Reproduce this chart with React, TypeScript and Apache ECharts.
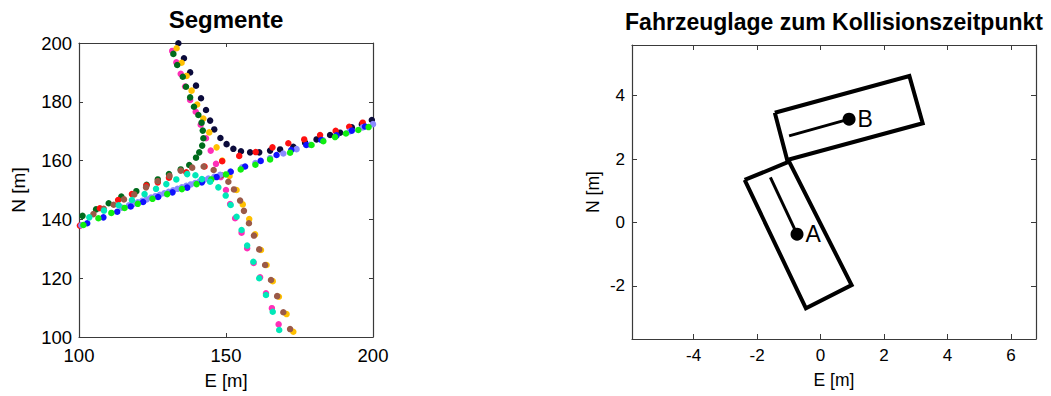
import React, { useEffect, useRef } from "react";
import * as echarts from "echarts";

// ---------- Left chart: "Segmente" (E [m] vs N [m]) ----------
const segNavy = [
  [133.8, 199.9], [135.7, 194.8], [137.8, 190.0], [139.8, 185.5], [141.5, 181.2], [143.2, 177.2],
  [144.6, 173.6], [146.0, 170.6], [148.1, 167.7], [150.2, 165.6], [152.5, 164.0], [155.1, 163.2],
  [158.2, 162.8], [161.3, 162.8], [165.0, 163.4], [168.4, 163.8], [172.9, 164.7], [176.9, 166.1],
  [180.8, 167.2], [185.4, 168.7], [188.8, 169.5], [192.8, 171.3], [196.2, 172.4], [199.6, 173.8],
];
const segPink = [
  [131.7, 197.3], [133.1, 193.4], [134.6, 189.5], [136.1, 185.2], [137.8, 180.6], [139.7, 176.6],
  [141.4, 172.2], [143.2, 167.6], [144.8, 163.4], [146.6, 158.9], [148.2, 154.4], [150.0, 150.0],
  [151.4, 145.2], [153.1, 140.4], [155.3, 135.5], [157.2, 130.2], [159.4, 125.2], [161.6, 120.3],
  [163.6, 114.9], [165.6, 109.8], [167.9, 104.3],
];
const segYellow = [
  [133.2, 198.2], [134.9, 193.3], [136.6, 188.8], [138.3, 183.8], [140.2, 179.1], [142.3, 174.3],
  [144.3, 169.6], [146.8, 164.5], [148.7, 160.0], [151.2, 154.8], [153.6, 150.0], [155.7, 145.1],
  [157.9, 140.1], [159.9, 134.9], [161.9, 129.6], [163.8, 124.5], [165.9, 119.0], [168.0, 113.7],
  [170.6, 107.8], [172.9, 101.8],
];
const segDarkGreen = [
  [132.1, 196.3], [133.4, 192.5], [135.3, 188.5], [136.4, 185.1], [137.8, 181.5], [139.1, 178.3],
  [140.6, 175.5], [141.7, 172.9], [142.1, 170.2], [142.3, 167.6], [141.9, 165.1], [140.9, 162.8],
  [139.8, 161.0], [137.5, 158.5], [134.6, 157.0], [130.6, 155.4], [126.8, 153.6], [123.0, 151.8],
  [119.5, 149.6], [114.4, 147.8], [110.1, 145.5], [105.8, 143.4], [101.2, 141.2],
];
const segRed = [
  [100.3, 137.9], [107.1, 143.8], [113.3, 146.6], [118.0, 148.6], [122.9, 151.5], [126.8, 152.6],
  [130.6, 154.2], [136.5, 156.0], [142.7, 158.0], [148.7, 159.8], [154.5, 161.6], [160.1, 162.9],
  [165.8, 164.5], [171.2, 165.9], [176.6, 167.2], [182.0, 168.7], [187.3, 170.1], [191.9, 171.5],
  [196.5, 172.9],
];
const segBrown = [
  [104.9, 141.8], [108.4, 143.6], [111.8, 145.0], [115.3, 146.8], [118.8, 148.5], [122.8, 150.9],
  [126.8, 153.0], [130.8, 154.8], [134.6, 156.6], [138.5, 157.6], [142.4, 158.0], [145.8, 156.8],
  [148.5, 155.0], [150.8, 152.8], [152.7, 150.2], [154.8, 146.4], [156.1, 142.9], [157.8, 138.7],
  [159.5, 134.5], [161.3, 129.8], [163.3, 124.5], [165.3, 119.4], [167.4, 113.9], [169.5, 108.4],
  [171.8, 102.7],
];
const segCyan = [
  [103.5, 140.7], [108.5, 143.0], [113.5, 144.8], [118.0, 146.6], [122.3, 148.6], [126.2, 150.4],
  [129.7, 152.0], [133.1, 153.6], [136.8, 155.4], [139.6, 155.0], [141.8, 153.7], [144.6, 152.8],
  [147.4, 150.9], [149.9, 148.1], [151.6, 144.9], [153.6, 140.9], [155.3, 136.4], [157.2, 131.1],
  [159.3, 125.6], [161.3, 120.0], [163.6, 114.3], [165.9, 108.6], [168.1, 102.4],
];
const segBlue = [
  [102.8, 138.7], [108.3, 140.7], [113.0, 142.6], [117.6, 144.4], [121.8, 145.9], [126.9, 147.6],
  [131.8, 149.2], [136.8, 150.8], [141.8, 152.6], [146.8, 154.4], [151.6, 156.2], [156.5, 158.0],
  [161.8, 159.9], [167.2, 161.9], [172.2, 163.6], [177.3, 165.3], [182.4, 167.0], [187.6, 168.6],
  [192.8, 170.2], [197.3, 171.6],
];
const segLightBlue = [
  [100.8, 138.0], [114.5, 144.0], [117.0, 144.8], [118.5, 145.3], [120.0, 145.8], [121.5, 146.3],
  [123.0, 146.8], [124.5, 147.4], [126.0, 147.9], [127.5, 148.4], [129.0, 148.9], [130.5, 149.4],
  [132.0, 149.9], [133.5, 150.4], [135.0, 150.9], [136.5, 151.4], [138.0, 151.9], [139.5, 152.4],
  [141.0, 152.9], [142.5, 153.4], [144.0, 153.9], [146.0, 154.5], [148.0, 155.2], [151.5, 156.3],
  [155.5, 157.7], [160.0, 159.2], [165.0, 160.9], [169.5, 162.4], [174.0, 163.9], [178.5, 165.4],
  [183.0, 166.9], [187.5, 168.4], [192.0, 169.9], [196.5, 171.3], [200.0, 172.4],
];
const segGreen = [
  [101.5, 138.1], [106.6, 140.4], [111.0, 142.2], [115.5, 143.9], [120.0, 145.3], [125.0, 147.0],
  [130.0, 148.6], [135.0, 150.3], [140.0, 152.0], [145.0, 153.6], [150.0, 155.3], [155.0, 157.0],
  [160.0, 158.6], [165.0, 160.4], [171.8, 162.7], [179.1, 165.3], [183.1, 166.6], [187.1, 168.0],
  [190.8, 169.2], [195.0, 170.4], [198.5, 171.4],
];

const segmentSeries = [
  { name: "Navy", color: "#0b0b3b", data: segNavy },
  { name: "Pink", color: "#ff2fb8", data: segPink },
  { name: "Yellow", color: "#ffc000", data: segYellow },
  { name: "DarkGreen", color: "#006b1c", data: segDarkGreen },
  { name: "Red", color: "#ff1010", data: segRed },
  { name: "Brown", color: "#9b5a48", data: segBrown },
  { name: "LightBlue", color: "#8a8aff", data: segLightBlue },
  { name: "Blue", color: "#1010ff", data: segBlue },
  { name: "Green", color: "#10ee10", data: segGreen },
  { name: "Cyan", color: "#00e8b8", data: segCyan },
];

const segXTicks = [100, 150, 200];
const segYTicks = [100, 120, 140, 160, 180, 200];

// ---------- Right chart: "Fahrzeuglage zum Kollisionszeitpunkt" ----------
const vehicleARect = [[-2.39, 1.34], [-0.99, 1.92], [0.98, -1.98], [-0.46, -2.71], [-2.39, 1.34]];
const vehicleBRect = [[-1.44, 3.46], [2.80, 4.62], [3.22, 3.13], [-1.05, 1.97], [-1.44, 3.46]];
const vehicleATrack = [[-0.74, -0.37], [-1.58, 1.42]];
const vehicleBTrack = [[0.90, 3.26], [-0.99, 2.73]];
const vehicleCenters = [
  { label: "A", value: [-0.74, -0.37] },
  { label: "B", value: [0.90, 3.26] },
];
const posXTicks = [-4, -2, 0, 2, 4, 6];
const posYTicks = [-2, 0, 2, 4];

const FONT = "'Liberation Sans', Arial, Helvetica, sans-serif";
const AXIS_COLOR = "#3a3a3a";

function mainAxis(opts: any) {
  return {
    type: "value",
    splitLine: { show: false },
    axisLine: { show: true, onZero: false, lineStyle: { color: AXIS_COLOR, width: 1.2 } },
    axisTick: { show: true, inside: true, length: 4, lineStyle: { color: AXIS_COLOR } },
    axisLabel: { color: "#000", fontFamily: FONT },
    nameTextStyle: { color: "#000", fontFamily: FONT },
    nameLocation: "middle",
    ...opts,
  };
}

function boxAxis(opts: any) {
  return {
    type: "value",
    splitLine: { show: false },
    axisLine: { show: true, onZero: false, lineStyle: { color: AXIS_COLOR, width: 1.2 } },
    axisTick: { show: true, inside: true, length: 4, lineStyle: { color: AXIS_COLOR } },
    axisLabel: { show: false },
    ...opts,
  };
}

export default function App() {
  const ref = useRef<HTMLDivElement>(null);

  useEffect(() => {
    if (!ref.current) return;
    const chart = echarts.init(ref.current, null, { renderer: "svg" });

    const option: any = {
      animation: false,
      backgroundColor: "#fff",
      grid: [
        { left: 79, top: 43, width: 294, height: 294 },
        { left: 632, top: 45, width: 404, height: 294 },
      ],
      graphic: [
        {
          type: "text", x: 226, y: 19,
          style: { text: "Segmente", font: `bold 24px ${FONT}`, fill: "#000", textAlign: "center", textVerticalAlign: "middle" },
        },
        {
          type: "text", x: 834, y: 22,
          style: { text: "Fahrzeuglage zum Kollisionszeitpunkt", font: `bold 23px ${FONT}`, fill: "#000", textAlign: "center", textVerticalAlign: "middle" },
        },
      ],
      xAxis: [
        mainAxis({
          gridIndex: 0, position: "bottom", min: 100, max: 200, interval: 50,
          name: "E [m]", nameGap: 34, nameTextStyle: { fontSize: 18.5, color: "#000", fontFamily: FONT },
          axisLabel: { fontSize: 18.5, color: "#000", fontFamily: FONT, margin: 9,
            customValues: segXTicks },
          axisTick: { show: true, inside: true, length: 4, lineStyle: { color: AXIS_COLOR }, customValues: segXTicks },
        }),
        boxAxis({ gridIndex: 0, position: "top", min: 100, max: 200, interval: 50 }),
        mainAxis({
          gridIndex: 1, position: "bottom", min: -5.94, max: 6.79,
          name: "E [m]", nameGap: 32, nameTextStyle: { fontSize: 17.5, color: "#000", fontFamily: FONT },
          axisLabel: { fontSize: 17, color: "#000", fontFamily: FONT, margin: 8, customValues: posXTicks },
          axisTick: { show: true, inside: true, length: 5, lineStyle: { color: AXIS_COLOR }, customValues: posXTicks },
        }),
        boxAxis({
          gridIndex: 1, position: "top", min: -5.94, max: 6.79,
          axisTick: { show: true, inside: true, length: 5, lineStyle: { color: AXIS_COLOR }, customValues: posXTicks },
        }),
      ],
      yAxis: [
        mainAxis({
          gridIndex: 0, position: "left", min: 100, max: 200, interval: 20,
          name: "N [m]", nameGap: 51, nameRotate: 90,
          nameTextStyle: { fontSize: 19, color: "#000", fontFamily: FONT },
          axisLabel: { fontSize: 18.5, color: "#000", fontFamily: FONT, margin: 7, customValues: segYTicks },
          axisTick: { show: true, inside: true, length: 4, lineStyle: { color: AXIS_COLOR }, customValues: segYTicks },
        }),
        boxAxis({ gridIndex: 0, position: "right", min: 100, max: 200, interval: 20 }),
        mainAxis({
          gridIndex: 1, position: "left", min: -3.68, max: 5.6,
          name: "N [m]", nameGap: 30, nameRotate: 90,
          nameTextStyle: { fontSize: 17.5, color: "#000", fontFamily: FONT },
          axisLabel: { fontSize: 17, color: "#000", fontFamily: FONT, margin: 7, customValues: posYTicks },
          axisTick: { show: true, inside: true, length: 5, lineStyle: { color: AXIS_COLOR }, customValues: posYTicks },
        }),
        boxAxis({
          gridIndex: 1, position: "right", min: -3.68, max: 5.6,
          axisTick: { show: true, inside: true, length: 5, lineStyle: { color: AXIS_COLOR }, customValues: posYTicks },
        }),
      ],
      series: [
        ...segmentSeries.map((s) => ({
          type: "scatter",
          name: s.name,
          xAxisIndex: 0,
          yAxisIndex: 0,
          symbol: "circle",
          symbolSize: 6.5,
          itemStyle: { color: s.color, opacity: 1 },
          data: s.data,
          silent: true,
        })),
        {
          type: "line", name: "Fahrzeug A", xAxisIndex: 2, yAxisIndex: 2,
          data: vehicleARect, showSymbol: false, symbol: "none",
          lineStyle: { color: "#000", width: 4, join: "miter" }, silent: true,
        },
        {
          type: "line", name: "Fahrzeug B", xAxisIndex: 2, yAxisIndex: 2,
          data: vehicleBRect, showSymbol: false, symbol: "none",
          lineStyle: { color: "#000", width: 4, join: "miter" }, silent: true,
        },
        {
          type: "line", name: "Spur A", xAxisIndex: 2, yAxisIndex: 2,
          data: vehicleATrack, showSymbol: false, symbol: "none",
          lineStyle: { color: "#000", width: 3 }, silent: true,
        },
        {
          type: "line", name: "Spur B", xAxisIndex: 2, yAxisIndex: 2,
          data: vehicleBTrack, showSymbol: false, symbol: "none",
          lineStyle: { color: "#000", width: 3 }, silent: true,
        },
        {
          type: "scatter", name: "Schwerpunkte", xAxisIndex: 2, yAxisIndex: 2,
          symbol: "circle", symbolSize: 13,
          itemStyle: { color: "#000", opacity: 1 },
          label: {
            show: true, position: "right", distance: 2,
            formatter: (p: any) => p.data.name,
            fontSize: 23, color: "#000", fontFamily: FONT, opacity: 1,
          },
          data: vehicleCenters.map((c) => ({ name: c.label, value: c.value })),
          silent: true,
        },
      ],
    };

    chart.setOption(option);
    return () => chart.dispose();
  }, []);

  return (
    <div
      ref={ref}
      style={{ position: "absolute", left: 0, top: 0, width: "1051px", height: "396px", background: "#fff" }}
    />
  );
}
